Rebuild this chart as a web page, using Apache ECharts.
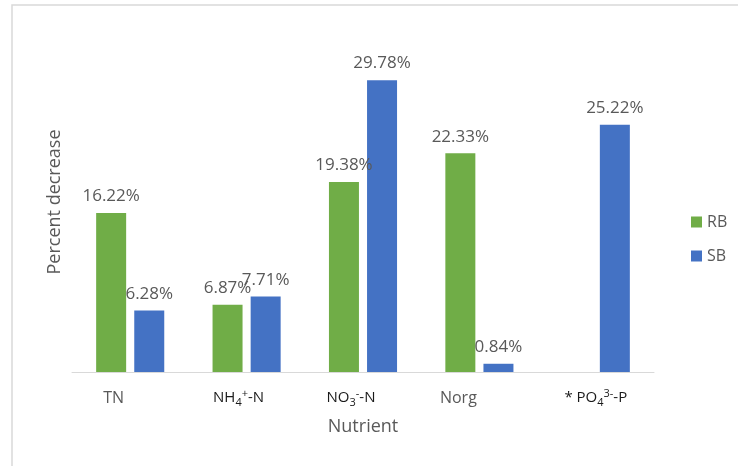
<!DOCTYPE html>
<html>
<head>
<meta charset="utf-8">
<script src="https://cdn.jsdelivr.net/npm/echarts@6/dist/echarts.min.js"></script>
<style>
  html, body { margin: 0; padding: 0; background: #ffffff; }
  #chart { width: 738px; height: 466px; }
</style>
</head>
<body>
<div id="chart"></div>
<script>
// Percent decrease of each nutrient for the two treatments
const categories = ['TN', 'NH4+-N', 'NO3--N', 'Norg', '* PO43--P'];
const seriesNames = ['RB', 'SB'];
const rbValues = [16.22, 6.87, 19.38, 22.33, null];
const sbValues = [6.28, 7.71, 29.78, 0.84, 25.22];

// Rich-text markup for the category labels (subscripts / superscripts)
const categoryMarkup = {
  'TN': '{g|TN}{s33|}',
  'NH4+-N': '{k|NH}{sub|4}{sup|+}{k|-N}{s16|}',
  'NO3--N': '{k|NO}{sub|3}{sup|-}{k|-N}{s24|}',
  'Norg': '{g|Norg}{s42|}',
  '* PO43--P': '{k|* PO}{sub|4}{sup|3-}{k|-P}'
};

const FONT = 'Open Sans';
const GREEN = '#70AD47';
const BLUE = '#4472C4';
const GREY_TEXT = '#595959';

const chart = echarts.init(document.getElementById('chart'), null, { renderer: 'canvas' });

function valueLabel(p) {
  return p.value == null ? '' : Number(p.value).toFixed(2) + '%';
}

const barLabel = {
  show: true,
  position: 'top',
  distance: 8,
  color: GREY_TEXT,
  fontFamily: FONT,
  fontSize: 17,
  formatter: valueLabel
};

chart.setOption({
  animation: false,
  textStyle: { fontFamily: FONT },
  graphic: [{
    type: 'rect',
    shape: { x: 12, y: 5, width: 900, height: 600 },
    style: { fill: 'none', stroke: '#d9d9d9', lineWidth: 1.5 },
    silent: true,
    z: -10
  }],
  grid: { left: 72, right: 84, top: 78, bottom: 94, containLabel: false },
  legend: {
    data: seriesNames,
    orient: 'vertical',
    left: 686,
    top: 209,
    itemGap: 18,
    itemWidth: 11,
    itemHeight: 11,
    icon: 'rect',
    textStyle: { color: GREY_TEXT, fontSize: 16, fontFamily: FONT }
  },
  xAxis: {
    type: 'category',
    data: categories,
    name: 'Nutrient',
    nameLocation: 'middle',
    nameGap: 46,
    nameTextStyle: { color: GREY_TEXT, fontSize: 18, fontFamily: FONT },
    axisLine: { show: true, lineStyle: { color: '#d9d9d9', width: 1 } },
    axisTick: { show: false },
    axisLabel: {
      interval: 0,
      margin: 16,
      formatter: function (v) { return categoryMarkup[v] || v; },
      rich: {
        g: { color: GREY_TEXT, fontSize: 16, fontFamily: FONT, lineHeight: 20 },
        k: { color: '#1a1a1a', fontSize: 15, fontFamily: FONT, lineHeight: 20 },
        sub: { color: '#1a1a1a', fontSize: 11, fontFamily: FONT, lineHeight: 11, verticalAlign: 'bottom' },
        sup: { color: '#1a1a1a', fontSize: 11, fontFamily: FONT, lineHeight: 15, verticalAlign: 'top' },
        s16: { width: 16, height: 1 },
        s24: { width: 24, height: 1 },
        s33: { width: 33, height: 1 },
        s42: { width: 42, height: 1 }
      }
    }
  },
  yAxis: {
    type: 'value',
    min: 0,
    max: 30,
    name: 'Percent decrease',
    nameLocation: 'middle',
    nameGap: 8,
    nameRotate: 90,
    nameTextStyle: { color: GREY_TEXT, fontSize: 18, fontFamily: FONT, padding: [0, 0, 0, 46] },
    axisLine: { show: false },
    axisTick: { show: false },
    axisLabel: { show: false },
    splitLine: { show: false }
  },
  series: [
    {
      name: seriesNames[0],
      type: 'bar',
      data: rbValues,
      barWidth: 30,
      barGap: '27%',
      itemStyle: { color: GREEN },
      label: barLabel
    },
    {
      name: seriesNames[1],
      type: 'bar',
      data: sbValues,
      barWidth: 30,
      itemStyle: { color: BLUE },
      label: barLabel
    }
  ]
});
</script>
</body>
</html>
